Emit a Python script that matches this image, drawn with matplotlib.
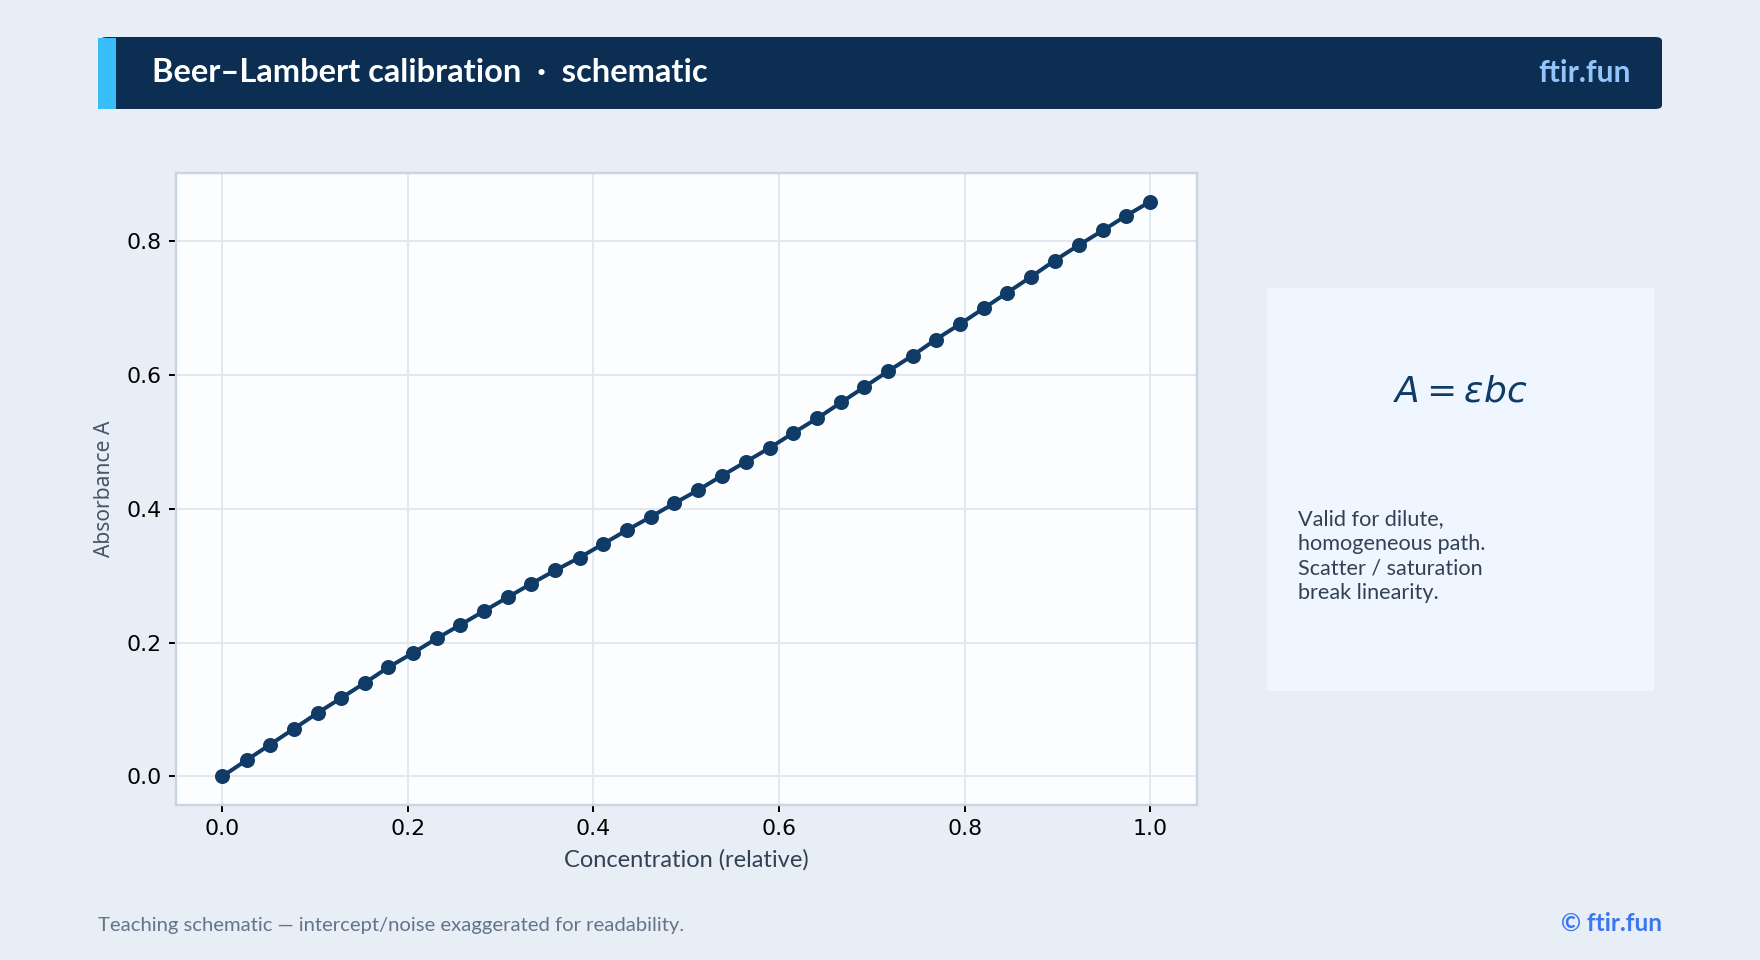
import matplotlib
matplotlib.use("Agg")
import matplotlib.pyplot as plt
from matplotlib.patches import Rectangle, FancyBboxPatch

# ---- data ----
concentration = [0.000, 0.026, 0.051, 0.077, 0.103, 0.128, 0.154, 0.179, 0.205, 0.231,
                 0.256, 0.282, 0.308, 0.333, 0.359, 0.385, 0.410, 0.436, 0.462, 0.487,
                 0.513, 0.538, 0.564, 0.590, 0.615, 0.641, 0.667, 0.692, 0.718, 0.744,
                 0.769, 0.795, 0.821, 0.846, 0.872, 0.897, 0.923, 0.949, 0.974, 1.000]
absorbance = [0.000, 0.024, 0.047, 0.071, 0.095, 0.117, 0.140, 0.163, 0.184, 0.206,
              0.226, 0.247, 0.268, 0.288, 0.308, 0.327, 0.347, 0.368, 0.388, 0.408,
              0.428, 0.449, 0.470, 0.491, 0.513, 0.535, 0.559, 0.582, 0.606, 0.629,
              0.653, 0.676, 0.700, 0.723, 0.747, 0.771, 0.794, 0.816, 0.838, 0.859]

title_text = "Beer\u2013Lambert calibration  \u00b7  schematic"
brand = "ftir.fun"
xlabel = "Concentration (relative)"
ylabel = "Absorbance A"
formula = r"$A = \varepsilon b c$"
note = "Valid for dilute,\nhomogeneous path.\nScatter / saturation\nbreak linearity."
footer = "Teaching schematic \u2014 intercept/noise exaggerated for readability."
footer_brand = "\u00a9 ftir.fun"

SANS = ["Lato", "DejaVu Sans"]
W, H = 1760, 960
DPI = 144
fig = plt.figure(figsize=(W / DPI, H / DPI), dpi=DPI)
fig.patch.set_facecolor("#e8eef6")

def fx(px):
    return px / W

def fy(py):
    return 1 - py / H

# header bar
fig.patches.append(FancyBboxPatch((fx(100), fy(109)), fx(1662) - fx(100), fy(37) - fy(109),
                                  boxstyle="round,pad=0,rounding_size=0.004",
                                  transform=fig.transFigure, facecolor="#0b2e52",
                                  edgecolor="none", zorder=0))
fig.patches.append(Rectangle((fx(97.5), fy(109)), fx(115.5) - fx(97.5), fy(38) - fy(109),
                             transform=fig.transFigure, facecolor="#38bdf8",
                             edgecolor="none", zorder=1))
fig.text(fx(152), fy(82), title_text, color="white", fontsize=16.3, fontweight="bold",
         family=SANS, va="baseline", ha="left")
fig.text(fx(1631), fy(82), brand, color="#93c5fd", fontsize=15, fontweight="bold",
         family=SANS, va="baseline", ha="right")

# main axes
ax = fig.add_axes([fx(176), fy(805), fx(1196.5) - fx(176), fy(173) - fy(805)])
ax.set_facecolor("#fbfdff")
ax.plot(concentration, absorbance, color="#0f3b66", linewidth=2.0, marker="o",
        markersize=6.5, zorder=3)
ax.grid(True, color="#e2e8f0", linewidth=1.0)
ax.set_axisbelow(True)
for s in ax.spines.values():
    s.set_color("#cbd5e1")
    s.set_linewidth(1.2)
ax.tick_params(labelsize=11, colors="black", length=3.5, width=1.0)
ax.set_xticks([0.0, 0.2, 0.4, 0.6, 0.8, 1.0])
ax.set_yticks([0.0, 0.2, 0.4, 0.6, 0.8])
ax.set_xlabel(xlabel, fontsize=11.8, color="#334155", family=SANS, labelpad=5)
ax.set_ylabel(ylabel, fontsize=10.5, color="#475569", family=["Noto Sans", "DejaVu Sans"], labelpad=6)

# side panel
fig.patches.append(Rectangle((fx(1267), fy(691)), fx(1654) - fx(1267), fy(288) - fy(691),
                             transform=fig.transFigure, facecolor="#eff6ff",
                             edgecolor="none", zorder=0))
fig.text(fx(1460), fy(401), formula, color="#0f3b66", fontsize=18, ha="center",
         va="baseline")
fig.text(fx(1298), fy(509), note, color="#334155", fontsize=10.8, family=SANS,
         ha="left", va="top", linespacing=1.3)

# footer
fig.text(fx(97.5), fy(931), footer, color="#64748b", fontsize=10.1, family=SANS,
         ha="left", va="baseline")
fig.text(fx(1662), fy(931), footer_brand, color="#3b76f0", fontsize=12.2, fontweight="bold",
         family=SANS, ha="right", va="baseline")

fig.savefig("out.png", dpi=DPI, facecolor=fig.get_facecolor())
